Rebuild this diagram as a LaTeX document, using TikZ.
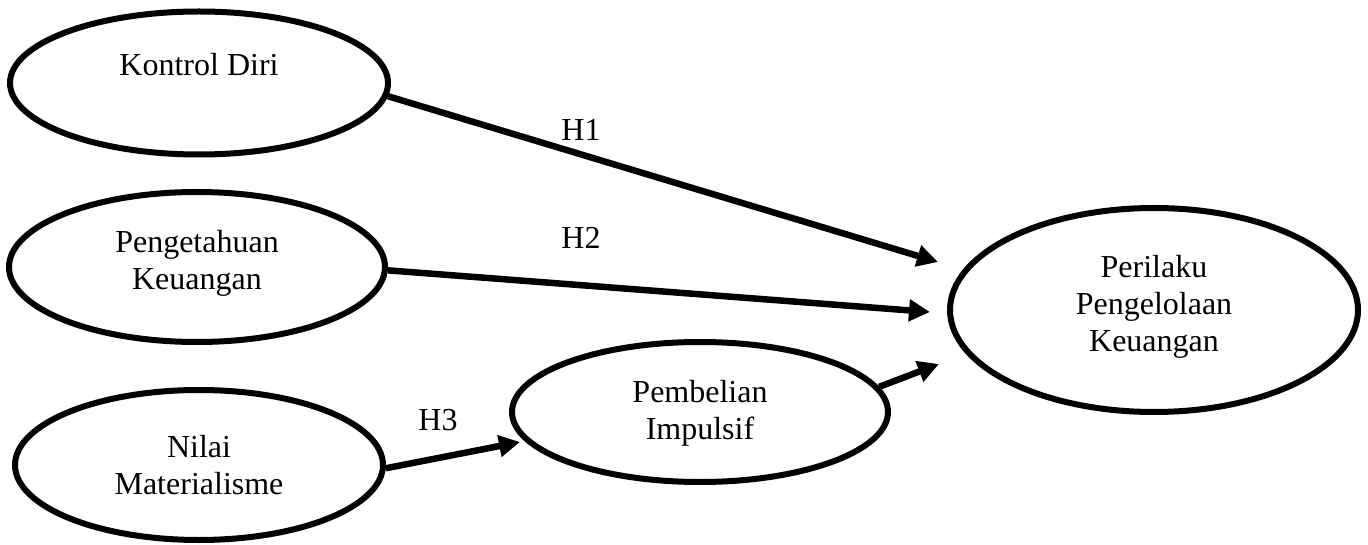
\documentclass[tikz,border=0pt]{standalone}
\usepackage{fontspec}
\setmainfont{Liberation Serif}
\usetikzlibrary{shapes.geometric,arrows.meta}

\tikzset{
  var/.style={draw, ellipse, line width=6pt, inner sep=0pt},
  lbl/.style={font=\fontsize{32}{37}\selectfont, align=center, inner sep=0pt},
  path arrow/.style={line width=6.5pt, -{Triangle[length=21pt,width=21pt]}},
}

\begin{document}
\begin{tikzpicture}[x=1pt, y=-1pt]
  \useasboundingbox (0,0) rectangle (1368,545);

  % latent variables
  \node[var, minimum width=378pt, minimum height=143pt] (kd) at (199,83) {};
  \node[var, minimum width=376pt, minimum height=150pt] (pk) at (197,267) {};
  \node[var, minimum width=368pt, minimum height=150pt] (nm) at (199,465) {};
  \node[var, minimum width=376pt, minimum height=140pt] (pb) at (700,412) {};
  \node[var, minimum width=408pt, minimum height=204pt] (pp) at (1154,310) {};

  % variable names
  \node[lbl] (kdt) at (199,65)  {Kontrol Diri};
  \node[lbl] (pkt) at (197,263) {Pengetahuan\\Keuangan};
  \node[lbl] (nmt) at (199,465) {Nilai\\Materialisme};
  \node[lbl] (pbt) at (700,413) {Pembelian\\Impulsif};
  \node[lbl] (ppt) at (1154,307) {Perilaku\\Pengelolaan\\Keuangan};

  % arrow tips
  \coordinate (t1) at (938,262);
  \coordinate (t2) at (930,312);
  \coordinate (t3) at (520,442);
  \coordinate (t4) at (939,364);

  % hypothesised paths
  \draw[path arrow] (kd.-4) -- (t1);
  \draw[path arrow] (pk.-1) -- (t2);
  \draw[path arrow] (nm.-1) -- (t3);
  \draw[path arrow] (pb.8) -- (t4);

  % hypothesis labels
  \node[lbl] (h1) at (581,130) {H1};
  \node[lbl] (h2) at (581,238) {H2};
  \node[lbl] (h3) at (438,420) {H3};
\end{tikzpicture}
\end{document}
